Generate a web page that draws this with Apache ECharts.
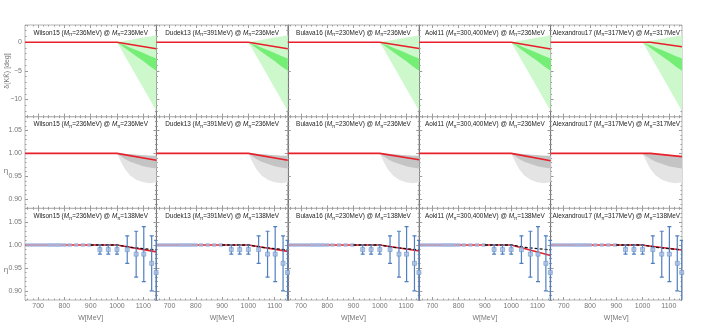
<!DOCTYPE html>
<html>
<head>
<meta charset="utf-8">
<script src="https://cdn.jsdelivr.net/npm/echarts@6/dist/echarts.min.js"></script>
<style>
html, body { margin: 0; padding: 0; background: #fff; }
#chart { width: 707px; height: 326px; }
</style>
</head>
<body>
<div id="chart"></div>
<script>
// lattice inputs, one column each
const groups = ['Wilson15', 'Dudek13', 'Bulava16', 'Aoki11', 'Alexandrou17'];
const groupMass = ['236', '391', '230', '300,400', '317'];
const evalMass = ['236', '236', '236', '236', '317'];
const physMass = '138';

// tick labels
const wTicks = [700, 800, 900, 1000, 1100];
const phaseTicks = [-10, -5, 0];
const etaTicks = [0.90, 0.95, 1.00, 1.05];

// uncertainty bands above the KK threshold
const bandW = [1000, 1015, 1030, 1050, 1075, 1100, 1125, 1150];
const phaseLightUp = [0, 0.1, 0.25, 0.4, 0.6, 0.8, 1.0, 1.2];
const phaseLightLo = [0, -1.2, -2.4, -4.0, -6.0, -8.0, -10.0, -12.0];
const phaseDarkUp = [0, -0.3, -0.55, -0.95, -1.4, -1.9, -2.4, -2.85];
const phaseDarkLo = [0, -0.5, -1.0, -1.65, -2.5, -3.3, -4.2, -5.0];

const etaLightUp = [1.0, 0.999, 0.999, 0.998, 0.997, 0.996, 0.995, 0.995];
const etaLightLo = [1.0, 0.982, 0.966, 0.952, 0.942, 0.937, 0.935, 0.937];
const etaDarkUp = [1.0, 0.999, 0.999, 0.998, 0.997, 0.996, 0.995, 0.995];
const etaDarkLo = [1.0, 0.994, 0.988, 0.982, 0.977, 0.972, 0.969, 0.967];

// fitted curves: flat up to the kink, then down to the end value
const phaseKink = [1000, 1000, 1000, 1000, 1030];
const phaseEnd = [-1.15, -1.15, -1.1, -1.2, -0.8];
const etaKink = [1000, 1000, 1000, 1000, 1030];
const etaEnd = [0.985, 0.985, 0.986, 0.984, 0.993];
const physKink = [1000, 1000, 1000, 1000, 995];
const physEnd = [0.985, 0.986, 0.987, 0.977, 0.989];

// black dashed curve (physical point)
const dashW = [900, 1000, 1050, 1100, 1150];
const dashEta = [1.0, 1.0, 0.995, 0.992, 0.989];

// experimental eta with errors
const expW = [935, 967, 1000, 1039, 1073, 1102, 1132, 1149];
const expEta = [0.99, 0.99, 0.99, 0.99, 0.98, 0.98, 0.96, 0.94];
const expErr = [0.01, 0.01, 0.01, 0.03, 0.05, 0.06, 0.06, 0.07];

const lowW = [660, 675, 690, 705, 720, 735, 745, 755, 765, 775, 785, 800, 820, 845, 870, 895];
const lowEta = [1, 1, 1, 1, 1, 1, 1, 1, 1, 1, 1, 1, 1, 1, 1, 1];

const FONT = 'Liberation Sans';
const LEFT = 25, PW = 131.4, PH = 91.7;
const TOPS = [25, 116.7, 208.3];

function range(a, b, s) {
    let out = [];
    for (let v = a; v <= b + 1e-9; v += s) out.push(+v.toFixed(4));
    return out;
}
const wMinor = range(660, 1140, 20);

const minus = v => (v < 0 ? '\u2212' + Math.abs(v) : String(v));
const rows = [
    {min: -13, max: 3, major: phaseTicks, minor: range(-13, 3, 1), fmt: minus},
    {min: 0.88, max: 1.08, major: etaTicks, minor: range(0.88, 1.08, 0.01), fmt: v => v.toFixed(2)},
    {min: 0.88, max: 1.08, major: etaTicks, minor: range(0.88, 1.08, 0.01), fmt: v => v.toFixed(2)}
];

function mkAxis(g, pos, min, max, ticks, len, label, lineColor) {
    return {
        type: 'value', gridIndex: g, position: pos, min: min, max: max, silent: true,
        axisLine: {show: !!lineColor, onZero: false, lineStyle: {color: lineColor || '#aaa', width: 1}},
        axisTick: {show: true, inside: true, length: len, customValues: ticks, lineStyle: {color: '#9a9a9a', width: 1}},
        axisLabel: label ? Object.assign({customValues: ticks}, label) : {show: false},
        splitLine: {show: false}
    };
}

function bandItem(params, api) {
    if (params.dataIndexInside !== 0) return null;
    let n = params.dataInsideLength, pts = [];
    for (let i = 0; i < n; i++) pts.push(api.coord([api.value(0, i), api.value(2, i)]));
    for (let i = n - 1; i >= 0; i--) pts.push(api.coord([api.value(0, i), api.value(1, i)]));
    return {type: 'polygon', shape: {points: pts}, style: {fill: api.visual('color')}};
}

function errItem(params, api) {
    let w = api.value(0), v = api.value(1), e = api.value(2);
    let a = api.coord([w, v + e]), b = api.coord([w, v - e]);
    let st = {stroke: '#4f7fc0', lineWidth: 1.2};
    return {type: 'group', children: [
        {type: 'line', shape: {x1: a[0], y1: a[1], x2: b[0], y2: b[1]}, style: st},
        {type: 'line', shape: {x1: a[0] - 2, y1: a[1], x2: a[0] + 2, y2: a[1]}, style: st},
        {type: 'line', shape: {x1: b[0] - 2, y1: b[1], x2: b[0] + 2, y2: b[1]}, style: st}
    ]};
}

let grids = [], xAxes = [], yAxes = [], series = [], graphics = [];

function band(g, lo, up, color, z) {
    series.push({
        type: 'custom', xAxisIndex: 4 * g, yAxisIndex: 4 * g, clip: true, silent: true, z: z,
        itemStyle: {color: color}, renderItem: bandItem,
        data: bandW.map((w, i) => [w, lo[i], up[i]])
    });
}

function redLine(g, base, kink, end) {
    series.push({
        type: 'line', xAxisIndex: 4 * g, yAxisIndex: 4 * g, symbol: 'none', z: 5, silent: true,
        lineStyle: {color: '#e8202a', width: 1.6},
        data: [[650, base], [kink, base], [1150, end]]
    });
}

const labelX = {show: true, color: '#777', fontSize: 7, fontFamily: FONT, margin: 3, formatter: v => String(v)};

for (let r = 0; r < 3; r++) {
    let R = rows[r];
    for (let c = 0; c < 5; c++) {
        let g = r * 5 + c;
        let left = LEFT + c * PW, top = TOPS[r];
        grids.push({left: left, top: top, width: PW, height: PH, show: true,
            borderColor: '#b4b4b4', borderWidth: 1, backgroundColor: 'transparent'});

        xAxes.push(mkAxis(g, 'bottom', 650, 1150, wTicks, 3, r === 2 ? labelX : null, null));
        xAxes.push(mkAxis(g, 'bottom', 650, 1150, wMinor, 1.5, null, null));
        xAxes.push(mkAxis(g, 'top', 650, 1150, wTicks, 3, null, null));
        xAxes.push(mkAxis(g, 'top', 650, 1150, wMinor, 1.5, null, null));

        let labelY = c === 0 ? {show: true, color: '#777', fontSize: 7, fontFamily: FONT, margin: 3, formatter: R.fmt} : null;
        yAxes.push(mkAxis(g, 'left', R.min, R.max, R.major, 3, labelY, c > 0 ? '#777' : null));
        yAxes.push(mkAxis(g, 'left', R.min, R.max, R.minor, 1.5, null, null));
        yAxes.push(mkAxis(g, 'right', R.min, R.max, R.major, 3, null, null));
        yAxes.push(mkAxis(g, 'right', R.min, R.max, R.minor, 1.5, null, null));

        if (r === 0) {
            band(g, phaseLightLo, phaseLightUp, '#ccf8cc', 1);
            band(g, phaseDarkLo, phaseDarkUp, '#74ee74', 2);
            redLine(g, 0, phaseKink[c], phaseEnd[c]);
        } else if (r === 1) {
            band(g, etaLightLo, etaLightUp, '#e4e4e4', 1);
            band(g, etaDarkLo, etaDarkUp, '#c4c4c4', 2);
            redLine(g, 1, etaKink[c], etaEnd[c]);
        } else {
            redLine(g, 1, physKink[c], physEnd[c]);
            series.push({
                type: 'scatter', xAxisIndex: 4 * g, yAxisIndex: 4 * g, symbol: 'rect', symbolSize: [4, 4], z: 5.5, silent: true,
                itemStyle: {color: '#a6bce4', opacity: 0.75},
                data: lowW.map((w, i) => [w, lowEta[i]])
            });
            series.push({
                type: 'line', xAxisIndex: 4 * g, yAxisIndex: 4 * g, symbol: 'none', z: 6, silent: true,
                lineStyle: {color: '#111', width: 1.3, type: [3, 2]},
                data: dashW.map((w, i) => [w, dashEta[i]])
            });
            series.push({
                type: 'custom', xAxisIndex: 4 * g, yAxisIndex: 4 * g, clip: true, silent: true, z: 7,
                renderItem: errItem,
                data: expW.map((w, i) => [w, expEta[i], expErr[i]])
            });
            series.push({
                type: 'scatter', xAxisIndex: 4 * g, yAxisIndex: 4 * g, symbol: 'rect', symbolSize: 4, z: 8, silent: true,
                clip: true,
                itemStyle: {color: '#aac0e2', borderColor: '#6f95cc', borderWidth: 0.8},
                data: expW.map((w, i) => [w, expEta[i]])
            });
        }

        // panel title
        let at = r === 2 ? physMass : evalMass[c];
        graphics.push({
            type: 'text', x: left + PW / 2, y: top + 8, z: 100, silent: true,
            style: {
                text: '{t|' + groups[c] + ' (}{i|M}{s|\u03c0}{t|=' + groupMass[c] + 'MeV) @ }{i|M}{s|\u03c0}{t|=' + at + 'MeV}',
                align: 'center', verticalAlign: 'middle', fill: '#222',
                rich: {
                    t: {fontSize: 6.4, fontFamily: FONT, lineHeight: 9, fill: '#222'},
                    i: {fontSize: 6.4, fontFamily: FONT, fontStyle: 'italic', lineHeight: 9, fill: '#222'},
                    s: {fontSize: 4.6, fontFamily: FONT, lineHeight: 5, verticalAlign: 'bottom', fill: '#222'}
                }
            }
        });
        if (r === 2) {
            graphics.push({
                type: 'text', x: left + PW / 2, y: 318, silent: true,
                style: {text: 'W[MeV]', align: 'center', verticalAlign: 'middle', fill: '#777', font: '7px "Liberation Sans"'}
            });
        }
    }
}

// y axis names
graphics.push({type: 'text', x: 7, y: 71, rotation: Math.PI / 2, silent: true,
    style: {text: '\u03b4(KK\u0304) [deg]', align: 'center', verticalAlign: 'middle', fill: '#777', font: '7px "Liberation Sans"'}});
graphics.push({type: 'text', x: 6, y: 171, silent: true,
    style: {text: '\u03b7', align: 'center', verticalAlign: 'middle', fill: '#777', font: '8px "Liberation Sans"'}});
graphics.push({type: 'text', x: 6, y: 270, silent: true,
    style: {text: '\u03b7', align: 'center', verticalAlign: 'middle', fill: '#777', font: '8px "Liberation Sans"'}});

let chart = echarts.init(document.getElementById('chart'));
chart.setOption({
    animation: false,
    backgroundColor: '#fff',
    grid: grids,
    xAxis: xAxes,
    yAxis: yAxes,
    series: series,
    graphic: graphics
});
</script>
</body>
</html>
